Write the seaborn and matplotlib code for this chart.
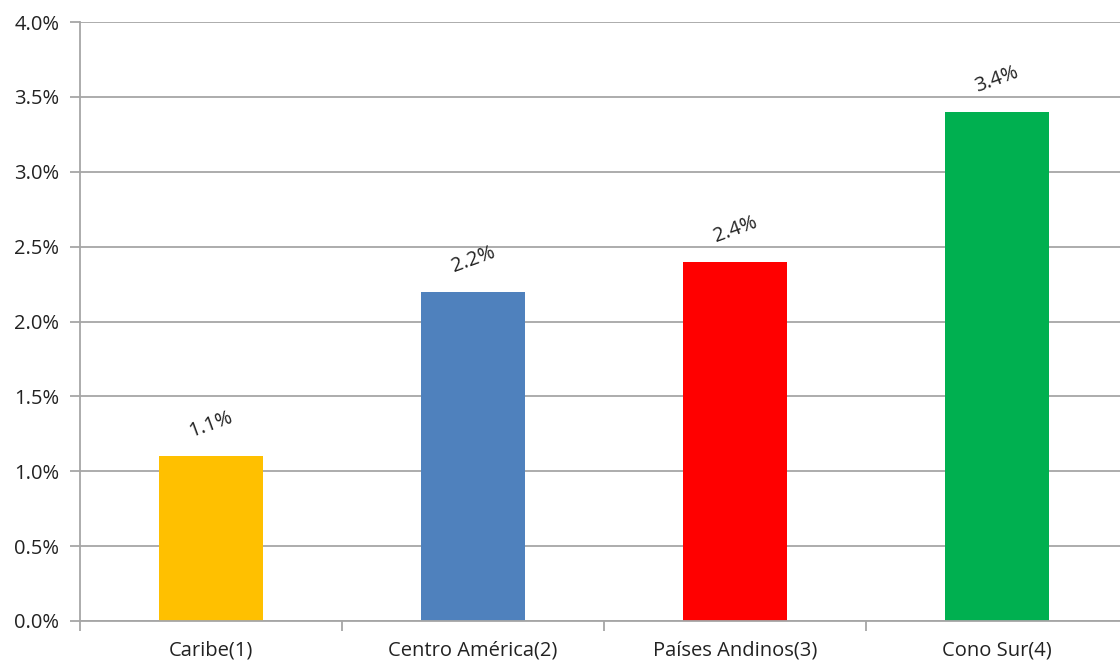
import matplotlib
matplotlib.use("Agg")
import matplotlib.pyplot as plt
import pandas as pd
import seaborn as sns
from matplotlib.ticker import FuncFormatter, MultipleLocator, FixedLocator

regions = ["Caribe(1)", "Centro América(2)", "Países Andinos(3)", "Cono Sur(4)"]
rates = [1.1, 2.2, 2.4, 3.4]
colors = ["#FFC000", "#4F81BD", "#FF0000", "#00B050"]

df = pd.DataFrame({"region": regions, "rate": rates})

sns.set_theme(style="white")
plt.rcParams["font.family"] = ["Open Sans", "DejaVu Sans"]

fig = plt.figure(figsize=(11.2, 6.63), dpi=100)
ax = fig.add_axes([80 / 1120, 1 - 621 / 663, 1048 / 1120, 599 / 663])

sns.barplot(data=df, x="region", y="rate", hue="region", palette=colors,
            width=0.4, legend=False, ax=ax, saturation=1, linewidth=0)

ax.set_ylim(0, 4.0)
ax.set_xlim(-0.5, 3.5)
ax.yaxis.set_major_locator(MultipleLocator(0.5))
ax.yaxis.set_major_formatter(FuncFormatter(lambda v, _: f"{v:.1f}%"))
ax.grid(axis="y", color="#A6A6A6", linewidth=1.3)
ax.set_axisbelow(True)

for s in ["top", "right"]:
    ax.spines[s].set_visible(False)
for s in ["left", "bottom"]:
    ax.spines[s].set_color("#A6A6A6")
    ax.spines[s].set_linewidth(1.3)

# category labels centred, tick marks on the boundaries
ax.xaxis.set_minor_locator(FixedLocator([-0.5, 0.5, 1.5, 2.5, 3.5]))
ax.tick_params(axis="x", which="major", length=0, pad=14, labelsize=14.5, colors="#222222")
ax.tick_params(axis="x", which="minor", length=7, width=1.3, color="#A6A6A6", bottom=True)
ax.tick_params(axis="y", length=7, width=1.3, color="#A6A6A6", left=True, labelsize=14.5,
               labelcolor="#222222", pad=8)

ax.set_xlabel("")
ax.set_ylabel("")

for i, v in enumerate(rates):
    ax.annotate(f"{v:.1f}%", (i, v), xytext=(0, 23), textcoords="offset points",
                ha="center", va="center", rotation=20, fontsize=14.5, color="#222222")

fig.savefig("out.png", dpi=100)
